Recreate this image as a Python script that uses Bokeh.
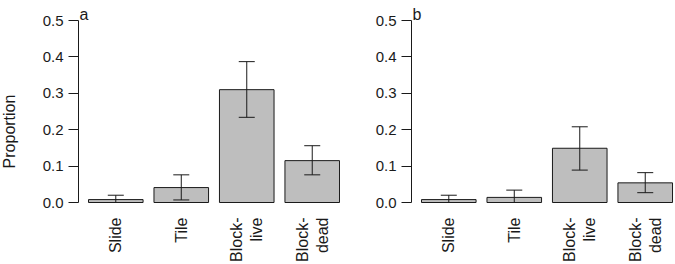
import math
from bokeh.plotting import figure
from bokeh.models import (ColumnDataSource, Range1d, FixedTicker, PrintfTickFormatter,
                          Whisker, TeeHead, Label)
from bokeh.layouts import row
from bokeh.embed import file_html
from bokeh.resources import INLINE

categories = ["Slide", "Tile", "Block-\nlive", "Block-\ndead"]
panel_names = ["a", "b"]
values_a = [0.008, 0.041, 0.310, 0.115]
lower_a = [0.000, 0.007, 0.234, 0.076]
upper_a = [0.020, 0.076, 0.387, 0.156]
values_b = [0.008, 0.014, 0.149, 0.054]
lower_b = [0.000, 0.000, 0.089, 0.027]
upper_b = [0.020, 0.034, 0.208, 0.082]
y_ticks = [0.0, 0.1, 0.2, 0.3, 0.4, 0.5]

FONT = "Liberation Sans"
PX_PER_X = 54.57
PX_PER_Y = 364.0
H = 264
TOP = 13
BOTTOM = 55

centers = [0.7 + 1.2 * i for i in range(len(categories))]
x0 = 0.2 - 10.0 / PX_PER_X
y_start = -(H - BOTTOM - 202) / PX_PER_Y
y_end = (202 - TOP) / PX_PER_Y


def make_panel(vals, lo, hi, name, width, left, ylabel):
    frame_w = width - left
    p = figure(width=width, height=H, output_backend="svg", toolbar_location=None,
               x_range=Range1d(x0, x0 + frame_w / PX_PER_X),
               y_range=Range1d(y_start, y_end),
               min_border_left=left, min_border_right=0,
               min_border_top=TOP, min_border_bottom=BOTTOM)
    p.outline_line_color = None
    p.xgrid.visible = False
    p.ygrid.visible = False
    p.background_fill_color = "white"
    p.border_fill_color = "white"

    src = ColumnDataSource(dict(x=centers, top=vals, lo=lo, hi=hi))
    p.vbar(x="x", top="top", bottom=0, width=1.0, source=src,
           fill_color="#BEBEBE", line_color="#1a1a1a", line_width=1)
    w = Whisker(base="x", lower="lo", upper="hi", source=src, level="overlay",
                line_color="#1a1a1a", line_width=1,
                upper_head=TeeHead(size=16, line_color="#1a1a1a", line_width=1),
                lower_head=TeeHead(size=16, line_color="#1a1a1a", line_width=1))
    p.add_layout(w)

    ya = p.yaxis[0]
    ya.ticker = FixedTicker(ticks=y_ticks)
    ya.formatter = PrintfTickFormatter(format="%.1f")
    ya.bounds = (y_ticks[0], y_ticks[-1])
    ya.major_tick_out = 10
    ya.major_tick_in = 0
    ya.minor_tick_line_color = None
    ya.axis_line_color = "#1a1a1a"
    ya.major_tick_line_color = "#1a1a1a"
    ya.major_label_text_font = FONT
    ya.major_label_text_font_size = "15px"
    ya.major_label_text_color = "#1a1a1a"
    ya.major_label_standoff = 5

    xa = p.xaxis[0]
    xa.ticker = FixedTicker(ticks=centers)
    xa.major_label_overrides = {c: lab for c, lab in zip(centers, categories)}
    xa.major_label_orientation = math.pi / 2
    xa.axis_line_color = None
    xa.major_tick_line_color = None
    xa.minor_tick_line_color = None
    xa.major_tick_out = 0
    xa.major_tick_in = 0
    xa.major_label_standoff = 8
    xa.major_label_text_font = FONT
    xa.major_label_text_font_size = "16px"
    xa.major_label_text_color = "#1a1a1a"

    p.add_layout(Label(x=left + 1, y=14, x_units="canvas", y_units="canvas",
                       text=name, text_font=FONT, text_font_size="16px",
                       text_color="#1a1a1a", text_baseline="alphabetic"), "left")
    if ylabel:
        p.add_layout(Label(x=9, y=131, x_units="canvas", y_units="canvas",
                           text=ylabel, angle=math.pi / 2, text_align="center",
                           text_baseline="middle", text_font=FONT,
                           text_font_size="16px", text_color="#1a1a1a"), "left")
    return p


pa = make_panel(values_a, lower_a, upper_a, panel_names[0], 340, 78, "Proportion")
pb = make_panel(values_b, lower_b, upper_b, panel_names[1], 335, 71, None)

layout = row(pa, pb, spacing=0)
open("out.html", "w").write(file_html(layout, INLINE))
